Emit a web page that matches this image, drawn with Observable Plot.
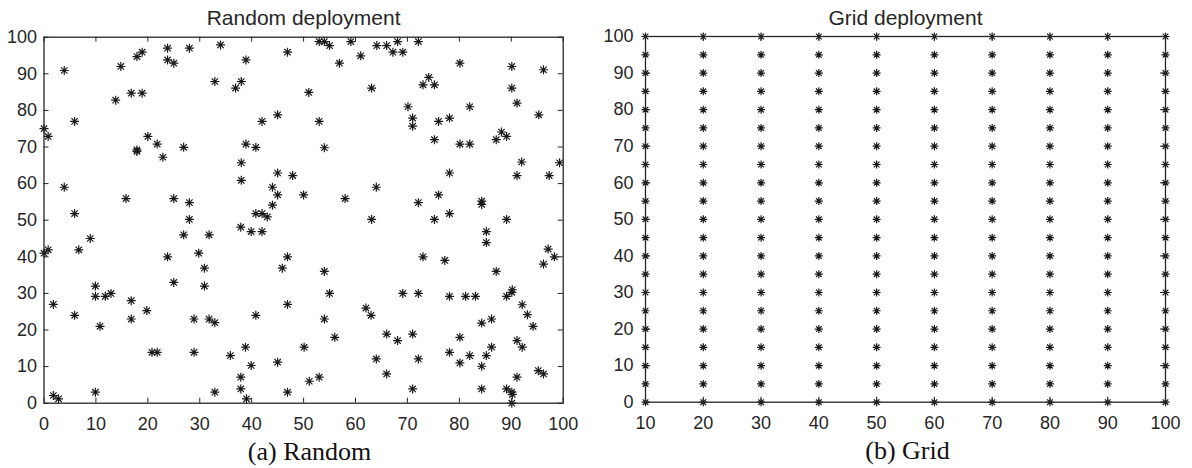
<!DOCTYPE html>
<html>
<head>
<meta charset="utf-8">
<script src="https://cdn.jsdelivr.net/npm/d3@7"></script>
<script src="https://cdn.jsdelivr.net/npm/@observablehq/plot@0.6"></script>
<style>
  html, body { margin: 0; padding: 0; background: #fff; }
  #wrap { display: flex; width: 1192px; height: 468px; }
</style>
</head>
<body>
<div id="wrap"></div>
<script>
// ---------- data ----------
const randomTitle = "Random deployment";
const gridTitle = "Grid deployment";
const randomCaption = "(a) Random";
const gridCaption = "(b) Grid";

const randomX = [0,0.8,3.9,5.9,14.8,13.8,16.8,18.9,17.9,18.9,23.8,23.8,25,28,34,32.9,36.9,38,38.9,46.9,20,21.8,17.9,17.9,22.9,26.9,38.9,40.8,38,38,42,45,45,44,45,44,40.8,42,43,3.9,5.9,15.8,25,28,28,
  53,54,55,59.1,61,56.9,64.1,66,67.2,68.1,69.1,72.1,80.1,90.1,96.2,63.1,51,73,74.1,75.2,90.1,91.1,82,70.1,71,71,76,78.1,53,75.2,80.1,82,87.1,88.1,89.1,95.3,54,92,91.1,78.1,47.9,50,58,64,72.1,76,84.3,84.3,78.1,63.1,75.2,89.1,99.3,97.3,
  37.9,39.9,42,26.9,31.8,8.9,0,0.8,6.7,23.8,29.8,30.9,45.9,46.9,25,30.9,9.9,9.9,11.8,12.9,1.8,16.8,19.8,16.8,5.9,10.8,28.9,31.8,32.9,40.8,46.9,20.8,21.8,28.9,35.9,38.8,39.9,45,37.9,37.9,39,32.9,9.9,1.8,2.8,46.9,
  85.2,85.2,73,77.2,54,87.1,96.2,97.1,98.3,55,69.1,72.1,78.1,81.2,83.1,89.1,90.2,90.1,92.1,93.1,94.2,62,63,54,84.3,86.2,66,68.1,71,56,80.1,50.1,64,72.1,78.1,80.1,82,84.3,85.2,86.2,91.1,92.1,95.2,96.2,91.1,66,51.1,53,71,84.3,89.1,90.1,90.2,90.1];
const randomY = [75,72.9,90.9,77,92,82.8,84.7,84.7,94.7,95.9,97,93.8,92.9,97,97.9,87.9,86.1,87.9,93.8,95.9,72.9,70.8,68.8,69.2,67.2,69.9,70.8,69.9,65.7,60.9,77,78.8,62.9,59,56.9,54.1,51.8,51.8,50.9,59,51.8,55.9,55.9,54.8,50.2,
  98.8,98.8,97.7,98.8,94.9,92.9,97.7,97.7,95.9,98.8,95.9,98.8,92.9,92,91.1,86.1,84.9,87,89,87,86.1,82,81,81,77.9,75.7,77,77.9,77,72,70.8,70.8,72,74.1,72.9,78.8,69.8,65.9,62.2,62.9,62.2,56.9,55.9,59,54.8,56.9,55.2,54.3,51.8,50.2,50.2,50.2,65.7,62.2,
  48.1,46.9,46.9,46,46,45,41,41.9,41.9,40,41,36.9,36.9,40,33,32,32,29.2,29.2,30,27,28,25.3,23,24,21,23,23,22,24,27,13.9,13.9,13.9,13,15.3,10.3,11.2,7.1,3.9,1.2,3,3,2.1,1.2,3,
  46.9,43.9,40,39,36,36,38,42.1,40,30,30,30,29.2,29.2,29.2,29.2,31,30.3,26.9,24.2,21,26,24,23,21.9,23,18.9,17.1,18.9,18,18,15.3,12.1,12.1,13.9,11,13,10.1,13,15.3,17.1,15.3,8.9,8,7.1,8,6,7.1,3.9,3.9,3.9,3,2.4,0];

const gridX = [10,20,30,40,50,60,70,80,90,100];
const gridY = [0,5,10,15,20,25,30,35,40,45,50,55,60,65,70,75,80,85,90,95,100];

const randomXTicks = [0,10,20,30,40,50,60,70,80,90,100];
const gridXTicks = [10,20,30,40,50,60,70,80,90,100];
const yTicks = [0,10,20,30,40,50,60,70,80,90,100];

// ---------- tables ----------
const randomPoints = randomX.map((x, i) => ({x, y: randomY[i]}));
const gridPoints = gridX.flatMap(x => gridY.map(y => ({x, y})));

// MATLAB-style 8-armed asterisk
const asterisk8 = {
  draw(ctx, size) {
    const r = Math.sqrt(size / Math.PI);
    const d = r * Math.SQRT1_2;
    ctx.moveTo(-r, 0); ctx.lineTo(r, 0);
    ctx.moveTo(0, -r); ctx.lineTo(0, r);
    ctx.moveTo(-d, -d); ctx.lineTo(d, d);
    ctx.moveTo(-d, d); ctx.lineTo(d, -d);
  }
};

const INK = "#262626";

function panel({points, xDomain, xTicks, title, caption, mL, mR, mT, mB, yPad, r, capDx}) {
  const W = 596, H = 468;
  const ph = H - mT - mB, pw = W - mL - mR;
  const tick = 5;
  return Plot.plot({
    width: W, height: H,
    marginLeft: mL, marginRight: mR, marginTop: mT, marginBottom: mB,
    x: {domain: xDomain, label: null},
    y: {domain: [0, 100], label: null},
    style: {fontFamily: "'Liberation Sans', Arial, sans-serif", fontSize: "18px", color: INK, background: "#fff", overflow: "visible"},
    marks: [
      Plot.dot(points, {x: "x", y: "y", symbol: asterisk8, r, stroke: "#1a1a1a", strokeWidth: 1.2, fill: "none"}),
      // inward ticks on all four sides
      Plot.ruleX(xTicks, {x: d => d, insetTop: ph - tick, stroke: INK, strokeWidth: 1}),
      Plot.ruleX(xTicks, {x: d => d, insetBottom: ph - tick, stroke: INK, strokeWidth: 1}),
      Plot.ruleY(yTicks, {y: d => d, insetRight: pw - tick, stroke: INK, strokeWidth: 1}),
      Plot.ruleY(yTicks, {y: d => d, insetLeft: pw - tick, stroke: INK, strokeWidth: 1}),
      Plot.frame({stroke: INK, strokeWidth: 1.3}),
      Plot.axisX({ticks: xTicks, tickSize: 0, tickPadding: 14, anchor: "bottom", fill: INK, label: null}),
      Plot.axisY({ticks: yTicks, tickSize: 0, tickPadding: yPad, anchor: "left", fill: INK, label: null}),
      Plot.text([title], {text: d => d, frameAnchor: "top", lineAnchor: "bottom", dy: -12, fontSize: 21, fill: INK}),
      Plot.text([caption], {text: d => d, frameAnchor: "bottom", lineAnchor: "bottom", dy: 56.5, dx: capDx,
        fontSize: 26, fontFamily: "'Liberation Serif', 'Times New Roman', serif", fill: "#111"})
    ]
  });
}

const wrap = document.getElementById("wrap");
wrap.append(panel({
  points: randomPoints, xDomain: [0, 100], xTicks: randomXTicks,
  title: randomTitle, caption: randomCaption,
  mL: 43.5, mR: 33.3, mT: 36.7, mB: 65.3, yPad: 7, r: 4.5, capDx: 6
}));
wrap.append(panel({
  points: gridPoints, xDomain: [10, 100], xTicks: gridXTicks,
  title: gridTitle, caption: gridCaption,
  mL: 49, mR: 27, mT: 36, mB: 66.3, yPad: 12, r: 4, capDx: 2
}));
</script>
</body>
</html>
